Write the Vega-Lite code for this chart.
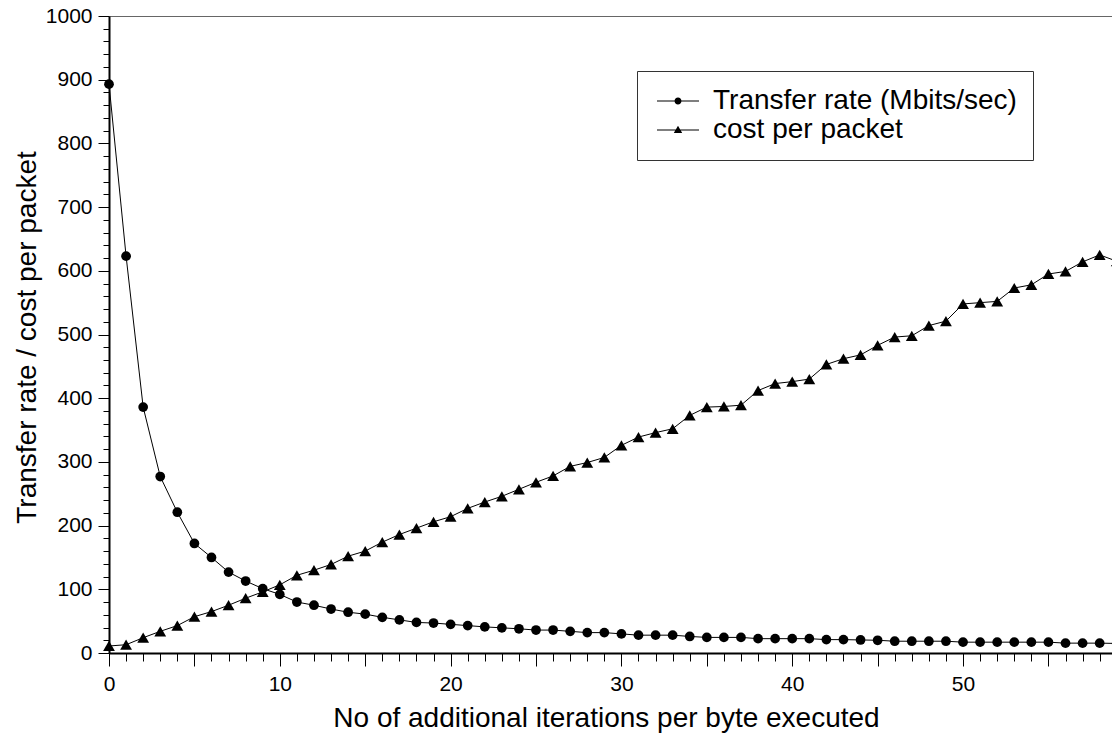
{
  "$schema": "https://vega.github.io/schema/vega-lite/v6.json",
  "autosize": {"type": "none"},
  "padding": {"left": 109, "top": 16, "right": 0, "bottom": 80},
  "width": 1004,
  "height": 637,
  "background": "white",
  "config": {
    "font": "Liberation Sans",
    "view": {"stroke": "#666666", "strokeWidth": 1},
    "axis": {"grid": false, "domainColor": "black", "domainWidth": 2, "tickColor": "black", "tickWidth": 1, "labelColor": "black", "titleColor": "black", "labelFont": "Liberation Sans", "titleFont": "Liberation Sans", "titleFontWeight": "normal", "labelFontSize": 21, "titleFontSize": 28}
  },
  "data": {"values": [
    {"x":0,"series":"Transfer rate (Mbits/sec)","value":893},
    {"x":1,"series":"Transfer rate (Mbits/sec)","value":623},
    {"x":2,"series":"Transfer rate (Mbits/sec)","value":386},
    {"x":3,"series":"Transfer rate (Mbits/sec)","value":277},
    {"x":4,"series":"Transfer rate (Mbits/sec)","value":221},
    {"x":5,"series":"Transfer rate (Mbits/sec)","value":172},
    {"x":6,"series":"Transfer rate (Mbits/sec)","value":150},
    {"x":7,"series":"Transfer rate (Mbits/sec)","value":127},
    {"x":8,"series":"Transfer rate (Mbits/sec)","value":113},
    {"x":9,"series":"Transfer rate (Mbits/sec)","value":101},
    {"x":10,"series":"Transfer rate (Mbits/sec)","value":92},
    {"x":11,"series":"Transfer rate (Mbits/sec)","value":80},
    {"x":12,"series":"Transfer rate (Mbits/sec)","value":75},
    {"x":13,"series":"Transfer rate (Mbits/sec)","value":69},
    {"x":14,"series":"Transfer rate (Mbits/sec)","value":64},
    {"x":15,"series":"Transfer rate (Mbits/sec)","value":61},
    {"x":16,"series":"Transfer rate (Mbits/sec)","value":56},
    {"x":17,"series":"Transfer rate (Mbits/sec)","value":52},
    {"x":18,"series":"Transfer rate (Mbits/sec)","value":48},
    {"x":19,"series":"Transfer rate (Mbits/sec)","value":47},
    {"x":20,"series":"Transfer rate (Mbits/sec)","value":45},
    {"x":21,"series":"Transfer rate (Mbits/sec)","value":43},
    {"x":22,"series":"Transfer rate (Mbits/sec)","value":41},
    {"x":23,"series":"Transfer rate (Mbits/sec)","value":39.5},
    {"x":24,"series":"Transfer rate (Mbits/sec)","value":38},
    {"x":25,"series":"Transfer rate (Mbits/sec)","value":36},
    {"x":26,"series":"Transfer rate (Mbits/sec)","value":36},
    {"x":27,"series":"Transfer rate (Mbits/sec)","value":34},
    {"x":28,"series":"Transfer rate (Mbits/sec)","value":32},
    {"x":29,"series":"Transfer rate (Mbits/sec)","value":32},
    {"x":30,"series":"Transfer rate (Mbits/sec)","value":30},
    {"x":31,"series":"Transfer rate (Mbits/sec)","value":28},
    {"x":32,"series":"Transfer rate (Mbits/sec)","value":28},
    {"x":33,"series":"Transfer rate (Mbits/sec)","value":28},
    {"x":34,"series":"Transfer rate (Mbits/sec)","value":26},
    {"x":35,"series":"Transfer rate (Mbits/sec)","value":24.5},
    {"x":36,"series":"Transfer rate (Mbits/sec)","value":24.5},
    {"x":37,"series":"Transfer rate (Mbits/sec)","value":24.5},
    {"x":38,"series":"Transfer rate (Mbits/sec)","value":22.5},
    {"x":39,"series":"Transfer rate (Mbits/sec)","value":22.5},
    {"x":40,"series":"Transfer rate (Mbits/sec)","value":22.5},
    {"x":41,"series":"Transfer rate (Mbits/sec)","value":22.5},
    {"x":42,"series":"Transfer rate (Mbits/sec)","value":21},
    {"x":43,"series":"Transfer rate (Mbits/sec)","value":21},
    {"x":44,"series":"Transfer rate (Mbits/sec)","value":20.5},
    {"x":45,"series":"Transfer rate (Mbits/sec)","value":20},
    {"x":46,"series":"Transfer rate (Mbits/sec)","value":18.5},
    {"x":47,"series":"Transfer rate (Mbits/sec)","value":18.5},
    {"x":48,"series":"Transfer rate (Mbits/sec)","value":18.5},
    {"x":49,"series":"Transfer rate (Mbits/sec)","value":18.5},
    {"x":50,"series":"Transfer rate (Mbits/sec)","value":17},
    {"x":51,"series":"Transfer rate (Mbits/sec)","value":17},
    {"x":52,"series":"Transfer rate (Mbits/sec)","value":17},
    {"x":53,"series":"Transfer rate (Mbits/sec)","value":17},
    {"x":54,"series":"Transfer rate (Mbits/sec)","value":17},
    {"x":55,"series":"Transfer rate (Mbits/sec)","value":17},
    {"x":56,"series":"Transfer rate (Mbits/sec)","value":15.5},
    {"x":57,"series":"Transfer rate (Mbits/sec)","value":15.5},
    {"x":58,"series":"Transfer rate (Mbits/sec)","value":15.5},
    {"x":59,"series":"Transfer rate (Mbits/sec)","value":15},
    {"x":0,"series":"cost per packet","value":11},
    {"x":1,"series":"cost per packet","value":13},
    {"x":2,"series":"cost per packet","value":24},
    {"x":3,"series":"cost per packet","value":34},
    {"x":4,"series":"cost per packet","value":43},
    {"x":5,"series":"cost per packet","value":57},
    {"x":6,"series":"cost per packet","value":65},
    {"x":7,"series":"cost per packet","value":75},
    {"x":8,"series":"cost per packet","value":86},
    {"x":9,"series":"cost per packet","value":96},
    {"x":10,"series":"cost per packet","value":107},
    {"x":11,"series":"cost per packet","value":122},
    {"x":12,"series":"cost per packet","value":130},
    {"x":13,"series":"cost per packet","value":139},
    {"x":14,"series":"cost per packet","value":152},
    {"x":15,"series":"cost per packet","value":160},
    {"x":16,"series":"cost per packet","value":174},
    {"x":17,"series":"cost per packet","value":186},
    {"x":18,"series":"cost per packet","value":196},
    {"x":19,"series":"cost per packet","value":206},
    {"x":20,"series":"cost per packet","value":214},
    {"x":21,"series":"cost per packet","value":227},
    {"x":22,"series":"cost per packet","value":237},
    {"x":23,"series":"cost per packet","value":246},
    {"x":24,"series":"cost per packet","value":257},
    {"x":25,"series":"cost per packet","value":268},
    {"x":26,"series":"cost per packet","value":278},
    {"x":27,"series":"cost per packet","value":293},
    {"x":28,"series":"cost per packet","value":299},
    {"x":29,"series":"cost per packet","value":307},
    {"x":30,"series":"cost per packet","value":326},
    {"x":31,"series":"cost per packet","value":339},
    {"x":32,"series":"cost per packet","value":346},
    {"x":33,"series":"cost per packet","value":352},
    {"x":34,"series":"cost per packet","value":373},
    {"x":35,"series":"cost per packet","value":386},
    {"x":36,"series":"cost per packet","value":387},
    {"x":37,"series":"cost per packet","value":389},
    {"x":38,"series":"cost per packet","value":412},
    {"x":39,"series":"cost per packet","value":423},
    {"x":40,"series":"cost per packet","value":426},
    {"x":41,"series":"cost per packet","value":430},
    {"x":42,"series":"cost per packet","value":453},
    {"x":43,"series":"cost per packet","value":462},
    {"x":44,"series":"cost per packet","value":468},
    {"x":45,"series":"cost per packet","value":483},
    {"x":46,"series":"cost per packet","value":496},
    {"x":47,"series":"cost per packet","value":498},
    {"x":48,"series":"cost per packet","value":514},
    {"x":49,"series":"cost per packet","value":521},
    {"x":50,"series":"cost per packet","value":548},
    {"x":51,"series":"cost per packet","value":550},
    {"x":52,"series":"cost per packet","value":552},
    {"x":53,"series":"cost per packet","value":573},
    {"x":54,"series":"cost per packet","value":578},
    {"x":55,"series":"cost per packet","value":595},
    {"x":56,"series":"cost per packet","value":599},
    {"x":57,"series":"cost per packet","value":614},
    {"x":58,"series":"cost per packet","value":625},
    {"x":59,"series":"cost per packet","value":615}
  ]},
  "encoding": {
    "x": {"field": "x", "type": "quantitative",
      "scale": {"domain": [0, 58.78], "nice": false, "zero": false},
      "axis": {
        "values": [0,1,2,3,4,5,6,7,8,9,10,11,12,13,14,15,16,17,18,19,20,21,22,23,24,25,26,27,28,29,30,31,32,33,34,35,36,37,38,39,40,41,42,43,44,45,46,47,48,49,50,51,52,53,54,55,56,57,58],
        "tickSize": {"condition": {"test": "datum.value % 5 === 0", "value": 13}, "value": 8},
        "labelExpr": "datum.value % 10 === 0 ? datum.label : ''",
        "labelOverlap": false, "labelFlush": false, "labelPadding": 7,
        "title": "No of additional iterations per byte executed",
        "titleX": 497, "titleY": 73, "titleBaseline": "alphabetic", "titleAnchor": "middle"
      }
    },
    "y": {"field": "value", "type": "quantitative",
      "scale": {"domain": [0, 1000], "nice": false},
      "axis": {
        "values": [0,20,40,60,80,100,120,140,160,180,200,220,240,260,280,300,320,340,360,380,400,420,440,460,480,500,520,540,560,580,600,620,640,660,680,700,720,740,760,780,800,820,840,860,880,900,920,940,960,980,1000],
        "format": "d",
        "tickSize": {"condition": {"test": "datum.value % 100 === 0", "value": 11}, "value": 6},
        "labelExpr": "datum.value % 100 === 0 ? datum.label : ''",
        "labelOverlap": false, "labelFlush": false, "labelPadding": 6,
        "title": "Transfer rate / cost per packet",
        "titleX": -74, "titleY": 321, "titleAngle": -90, "titleBaseline": "alphabetic", "titleAnchor": "middle"
      }
    }
  },
  "layer": [
    {
      "mark": {"type": "line", "color": "black", "strokeWidth": 1},
      "encoding": {"detail": {"field": "series", "type": "nominal"}}
    },
    {
      "mark": {"type": "point", "filled": true, "color": "black", "opacity": 1},
      "encoding": {
        "shape": {"field": "series", "type": "nominal",
          "scale": {"domain": ["Transfer rate (Mbits/sec)", "cost per packet"], "range": ["circle", "triangle-up"]},
          "legend": null
        },
        "size": {"field": "series", "type": "ordinal",
          "scale": {"domain": ["Transfer rate (Mbits/sec)", "cost per packet"], "range": [95, 140]},
          "legend": null
        }
      }
    },
    {
      "mark": {"type": "point", "filled": true, "color": "black", "opacity": 0, "size": 400},
      "encoding": {
        "shape": {"field": "series", "type": "nominal",
          "scale": {"domain": ["Transfer rate (Mbits/sec)", "cost per packet"], "range": ["M-1,-0.05H3.2V0.05H-1Z M1.45,0A0.35,0.35 0 1,1 0.75,0A0.35,0.35 0 1,1 1.45,0Z", "M-1,-0.05H3.2V0.05H-1Z M1.1,-0.42L1.52,0.3L0.68,0.3Z"]},
          "legend": {
            "title": null, "orient": "none", "legendX": 528, "legendY": 55,
            "labelFontSize": 28, "labelColor": "black", "labelFont": "Liberation Sans", "labelLimit": 0,
            "symbolSize": 400, "symbolFillColor": "black", "symbolStrokeColor": "black", "symbolStrokeWidth": 0, "symbolOpacity": 1,
            "strokeColor": "#333333", "fillColor": "white", "padding": 16, "rowPadding": 1, "labelOffset": 32
          }
        }
      }
    }
  ],
  "resolve": {"scale": {"shape": "independent"}}
}
